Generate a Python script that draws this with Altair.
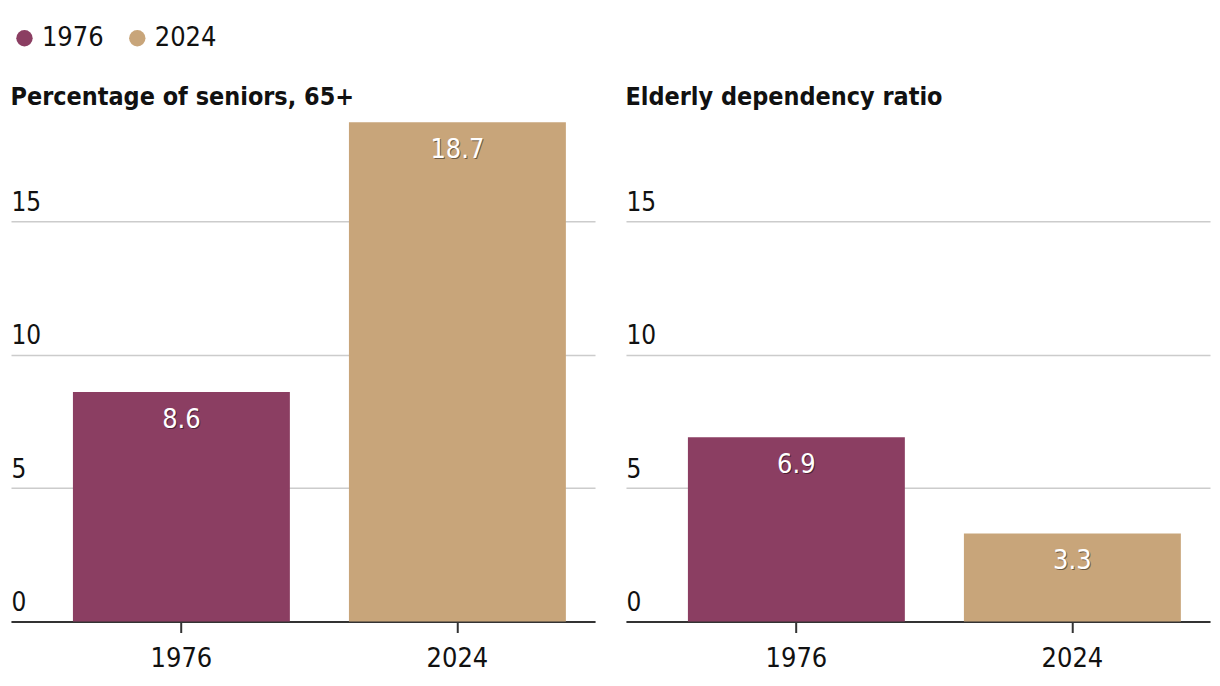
import altair as alt
import pandas as pd

years = ["1976", "2024"]
seniors_pct = [8.6, 18.7]
dependency = [6.9, 3.3]
titles = ["Percentage of seniors, 65+", "Elderly dependency ratio"]
colors = ["#8B3E62", "#C8A57A"]
y_ticks = [0, 5, 10, 15]

FONT = "Liberation Sans Narrow, DejaVu Sans Condensed, sans-serif"


def panel(values, title):
    df = pd.DataFrame({"year": years, "value": values})
    base = alt.Chart(df)
    bars = base.mark_bar().encode(
        x=alt.X(
            "year:N",
            sort=years,
            title=None,
            scale=alt.Scale(paddingInner=0.214, paddingOuter=0.165, align=0.68),
            axis=alt.Axis(
                labelAngle=0,
                labelFontSize=27,
                labelFont=FONT,
                labelColor="#111",
                labelPadding=13,
                tickSize=11,
                tickWidth=2,
                tickColor="#333",
                domainColor="#333",
                domainWidth=2,
                grid=False,
            ),
        ),
        y=alt.Y(
            "value:Q",
            title=None,
            scale=alt.Scale(domain=[0, 18.7], nice=False),
            axis=alt.Axis(
                values=y_ticks,
                orient="left",
                labelAlign="left",
                labelBaseline="bottom",
                labelPadding=0,
                labelOffset=-6,
                labelFontSize=26,
                labelFont=FONT,
                labelColor="#111",
                tickSize=0,
                domain=False,
                grid=True,
                gridColor="#cccccc",
                gridWidth=1.5,
            ),
        ),
        color=alt.Color(
            "year:N",
            scale=alt.Scale(domain=years, range=colors),
            legend=alt.Legend(
                title=None,
                orient="top",
                direction="horizontal",
                symbolType="circle",
                symbolSize=270,
                symbolOpacity=1,
                symbolStrokeWidth=0,
                labelFontSize=27,
                labelFont=FONT,
                labelColor="#111",
                columnPadding=20,
                offset=34,
            ),
        ),
    )
    shadow = base.mark_text(
        dy=29, dx=1, fontSize=27, font=FONT, color="#000", opacity=0.45
    ).encode(
        x=alt.X("year:N", sort=years),
        y="value:Q",
        text=alt.Text("value:Q", format=".1f"),
    )
    labels = base.mark_text(dy=28, fontSize=27, font=FONT, color="white").encode(
        x=alt.X("year:N", sort=years),
        y="value:Q",
        text=alt.Text("value:Q", format=".1f"),
    )
    return alt.layer(bars, shadow, labels).properties(
        width=585,
        height=500,
        title=alt.TitleParams(
            title,
            anchor="start",
            fontSize=25,
            font=FONT,
            fontWeight="bold",
            color="#111",
            offset=12,
        ),
    )


chart = (
    alt.hconcat(panel(seniors_pct, titles[0]), panel(dependency, titles[1]), spacing=30)
    .properties(padding={"left": 2, "top": 16, "right": 2, "bottom": 5})
    .configure_view(stroke=None)
    .configure_legend(orient="top")
)

chart.save("out.html", embed_options={"renderer": "svg", "actions": False})
